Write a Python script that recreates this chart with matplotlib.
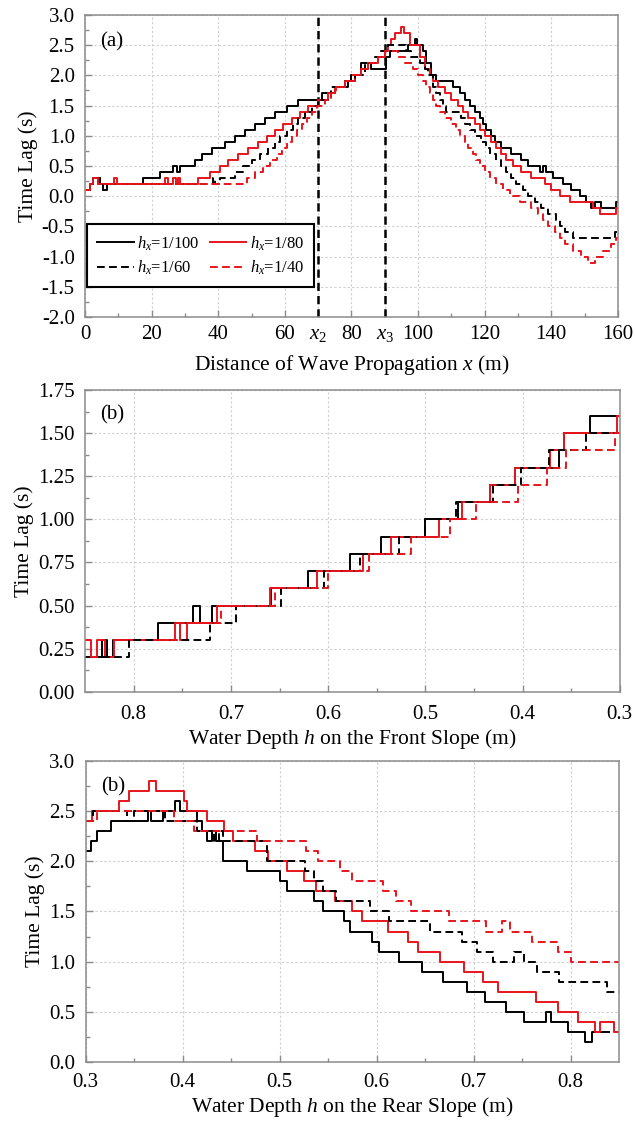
import numpy as np
import matplotlib
matplotlib.use('Agg')
import matplotlib.pyplot as plt
from matplotlib.ticker import MultipleLocator, FormatStrFormatter, FixedLocator

plt.rcParams['font.family'] = ['Liberation Serif', 'DejaVu Serif']
plt.rcParams['mathtext.fontset'] = 'custom'
plt.rcParams['mathtext.rm'] = 'Liberation Serif'
plt.rcParams['mathtext.it'] = 'Liberation Serif:italic'

#################################################
# (a) time lag along the propagation distance
x_a100 = [0, 1.5, 2.5, 4.5, 5.5, 6.5, 17.5, 22.5, 26.5, 27.5,
          28.5, 33, 35, 38, 42, 45, 48, 51, 54, 57,
          60.5, 64, 71, 75, 79, 81, 83, 86, 90.5, 91.5,
          97, 99, 99.8, 101.5, 102.5, 103.8, 105.5, 110.5, 112.5, 114,
          115.5, 117, 118.5, 119.5, 120.5, 122, 123, 125, 128, 131,
          133, 136.5, 137.5, 138.5, 140.5, 143.5, 146, 148.5, 150.5, 152,
          153, 155, 159.3, 160]
y_a100 = [0.1, 0.2, 0.3, 0.2, 0.1, 0.2, 0.3, 0.4, 0.5, 0.4,
          0.5, 0.6, 0.7, 0.8, 0.9, 1.0, 1.1, 1.2, 1.3, 1.4,
          1.5, 1.6, 1.7, 1.8, 1.9, 2.0, 2.2, 2.1, 2.3, 2.4,
          2.5, 2.6, 2.5, 2.4, 2.2, 2.0, 1.9, 1.8, 1.7, 1.6,
          1.5, 1.4, 1.3, 1.2, 1.1, 1.0, 0.9, 0.8, 0.7, 0.6,
          0.5, 0.4, 0.5, 0.4, 0.3, 0.2, 0.1, 0.0, -0.1, -0.2,
          -0.1, -0.2, -0.1, -0.1]

x_a80 = [0, 1.5, 2.5, 4, 8.8, 9.5, 24, 25, 26.5, 27.2,
         28, 28.6, 34, 37.5, 40.5, 43, 46, 49, 52, 54.5,
         57, 59.5, 62, 64.5, 67, 70, 73, 75, 78, 80,
         83, 85, 88, 90, 91, 92, 93, 95, 95.8, 97.5,
         100.5, 102, 103.5, 104.5, 106, 108, 110, 112, 113.5, 115,
         117, 118.5, 120, 122, 123.5, 125, 126.5, 128.5, 131, 134,
         138, 140, 142.5, 145.5, 152.5, 154.5, 159.5, 160]
y_a80 = [0.1, 0.2, 0.3, 0.2, 0.3, 0.2, 0.3, 0.2, 0.3, 0.2,
         0.3, 0.2, 0.3, 0.4, 0.5, 0.6, 0.7, 0.8, 0.9, 1.0,
         1.1, 1.2, 1.3, 1.4, 1.5, 1.6, 1.7, 1.8, 1.9, 2.0,
         2.1, 2.2, 2.3, 2.4, 2.5, 2.6, 2.7, 2.8, 2.7, 2.5,
         2.3, 2.1, 2.0, 1.9, 1.8, 1.7, 1.6, 1.5, 1.4, 1.3,
         1.2, 1.1, 1.0, 0.9, 0.8, 0.7, 0.6, 0.5, 0.4, 0.3,
         0.2, 0.1, 0.0, -0.1, -0.2, -0.3, -0.2, -0.2]

x_a60 = [0, 1.5, 2.5, 4.5, 5.5, 6.5, 38.5, 39, 40.5, 45,
         47.5, 50, 52.5, 55, 57, 58.5, 60.5, 62.5, 64, 66,
         68, 70, 74, 78, 80, 84, 87, 89, 91, 96.5,
         98, 100.5, 102, 103, 104.5, 105.5, 106.5, 107.5, 108.5, 113,
         114, 115.5, 117, 119, 120.5, 121.5, 123.5, 125, 126.5, 128,
         129.5, 131.5, 133, 135, 137, 139, 141.5, 142.5, 144, 146.5,
         159, 160]
y_a60 = [0.1, 0.2, 0.3, 0.2, 0.1, 0.2, 0.3, 0.2, 0.3, 0.4,
         0.5, 0.6, 0.7, 0.8, 0.9, 1.0, 1.1, 1.2, 1.3, 1.4,
         1.5, 1.6, 1.8, 1.9, 2.0, 2.2, 2.3, 2.4, 2.5, 2.4,
         2.3, 2.2, 2.1, 2.0, 1.8, 1.7, 1.6, 1.5, 1.4, 1.3,
         1.2, 1.1, 1.0, 0.9, 0.8, 0.7, 0.6, 0.5, 0.4, 0.3,
         0.2, 0.1, 0.0, -0.1, -0.2, -0.3, -0.4, -0.5, -0.6, -0.7,
         -0.6, -0.6]

x_a40 = [0, 1.5, 2.5, 4, 48.5, 51, 53.5, 55.5, 57.5, 59,
         60.5, 62, 63.5, 65, 66.5, 68, 69.5, 72, 74, 75.5,
         78, 81, 83, 85, 88, 90, 94, 96, 98.5, 100,
         101.5, 102.5, 103.5, 104.5, 105.5, 106.5, 108, 110, 111.5, 112.5,
         114, 115, 116.5, 117.5, 118.5, 120, 121.5, 123.5, 125.5, 127.5,
         130.5, 134, 136, 137.5, 139, 141, 142.5, 144, 146.5, 149,
         151, 153, 155.5, 158, 159.5, 160]
y_a40 = [0.1, 0.2, 0.3, 0.2, 0.3, 0.4, 0.5, 0.6, 0.7, 0.8,
         0.9, 1.0, 1.1, 1.2, 1.3, 1.4, 1.5, 1.6, 1.7, 1.8,
         1.9, 2.0, 2.1, 2.2, 2.3, 2.4, 2.3, 2.2, 2.1, 2.0,
         1.9, 1.8, 1.7, 1.6, 1.5, 1.4, 1.3, 1.2, 1.1, 1.0,
         0.9, 0.8, 0.7, 0.6, 0.5, 0.4, 0.3, 0.2, 0.1, 0.0,
         -0.1, -0.2, -0.3, -0.4, -0.5, -0.6, -0.7, -0.8, -0.9, -1.0,
         -1.1, -1.0, -0.9, -0.8, -0.7, -0.7]

x2_pos = 70
x3_pos = 90
xticks_a = [0, 20, 40, 60, 70, 80, 90, 100, 120, 140, 160]
xticklabels_a = ['0', '20', '40', '60', r'$x_2$', '80', r'$x_3$', '100', '120', '140', '160']

# (b) front slope
h_b100 = [0.85, 0.833, 0.827, 0.821, 0.775, 0.739, 0.732, 0.719, 0.659, 0.621,
          0.577, 0.546, 0.5, 0.466, 0.433, 0.408, 0.363, 0.357, 0.331, 0.3]
y_b100 = [0.2, 0.3, 0.2, 0.3, 0.4, 0.5, 0.4, 0.5, 0.6, 0.7,
          0.8, 0.9, 1.0, 1.1, 1.2, 1.3, 1.4, 1.5, 1.6, 1.6]
h_b80 = [0.85, 0.844, 0.838, 0.83, 0.82, 0.758, 0.752, 0.745, 0.714, 0.66,
         0.611, 0.564, 0.535, 0.486, 0.462, 0.433, 0.408, 0.372, 0.357, 0.303, 0.3]
y_b80 = [0.3, 0.2, 0.3, 0.2, 0.3, 0.4, 0.3, 0.4, 0.5, 0.6,
         0.7, 0.8, 0.9, 1.0, 1.1, 1.2, 1.3, 1.4, 1.5, 1.6, 1.6]
h_b60 = [0.833, 0.805, 0.722, 0.695, 0.648, 0.604, 0.567, 0.527, 0.5, 0.468,
         0.43, 0.402, 0.373, 0.335, 0.3]
y_b60 = [0.2, 0.3, 0.4, 0.5, 0.6, 0.7, 0.8, 0.9, 1.0, 1.1,
         1.2, 1.3, 1.4, 1.5, 1.5]
h_b40 = [0.775, 0.752, 0.71, 0.655, 0.6, 0.558, 0.515, 0.475, 0.448, 0.405,
         0.375, 0.355, 0.305, 0.3]
y_b40 = [0.3, 0.4, 0.5, 0.6, 0.7, 0.8, 0.9, 1.0, 1.1, 1.2,
         1.3, 1.4, 1.5, 1.5]

# (c) rear slope
h_c100 = [0.3, 0.305, 0.312, 0.326, 0.364, 0.367, 0.38, 0.392, 0.397, 0.415,
          0.42, 0.425, 0.43, 0.434, 0.442, 0.466, 0.5, 0.508, 0.535, 0.545,
          0.566, 0.572, 0.595, 0.602, 0.623, 0.647, 0.668, 0.693, 0.712, 0.733,
          0.752, 0.775, 0.78, 0.797, 0.815, 0.822, 0.84]
y_c100 = [2.1, 2.2, 2.3, 2.4, 2.5, 2.4, 2.5, 2.6, 2.5, 2.4,
          2.3, 2.2, 2.3, 2.2, 2.0, 1.9, 1.8, 1.7, 1.6, 1.5,
          1.4, 1.3, 1.2, 1.1, 1.0, 0.9, 0.8, 0.7, 0.6, 0.5,
          0.4, 0.5, 0.4, 0.3, 0.2, 0.3, 0.3]
h_c80 = [0.3, 0.306, 0.334, 0.345, 0.365, 0.372, 0.401, 0.404, 0.425, 0.443,
         0.452, 0.475, 0.488, 0.508, 0.525, 0.537, 0.557, 0.575, 0.585, 0.612,
         0.632, 0.643, 0.665, 0.69, 0.71, 0.725, 0.764, 0.787, 0.808, 0.825,
         0.83, 0.845, 0.85]
y_c80 = [2.4, 2.5, 2.6, 2.7, 2.8, 2.7, 2.6, 2.5, 2.4, 2.3,
         2.2, 2.1, 2.0, 1.9, 1.8, 1.7, 1.6, 1.5, 1.4, 1.3,
         1.2, 1.1, 1.0, 0.9, 0.8, 0.7, 0.6, 0.5, 0.4, 0.3,
         0.4, 0.3, 0.3]
h_c60 = [0.3, 0.307, 0.343, 0.35, 0.382, 0.415, 0.432, 0.437, 0.442, 0.487,
         0.526, 0.535, 0.545, 0.558, 0.593, 0.613, 0.655, 0.688, 0.703, 0.72,
         0.742, 0.752, 0.765, 0.788, 0.838, 0.85]
y_c60 = [2.4, 2.5, 2.4, 2.5, 2.4, 2.3, 2.2, 2.3, 2.2, 2.0,
         1.9, 1.8, 1.7, 1.6, 1.5, 1.4, 1.3, 1.2, 1.1, 1.0,
         1.1, 1.0, 0.9, 0.8, 0.7, 0.7]
h_c40 = [0.3, 0.312, 0.391, 0.412, 0.477, 0.527, 0.54, 0.562, 0.575, 0.607,
         0.62, 0.635, 0.675, 0.713, 0.729, 0.737, 0.76, 0.787, 0.8, 0.85]
y_c40 = [2.4, 2.5, 2.4, 2.3, 2.2, 2.1, 2.0, 1.9, 1.8, 1.7,
         1.6, 1.5, 1.4, 1.3, 1.4, 1.3, 1.2, 1.1, 1.0, 1.0]

Labels = [r'$h_x$=1/100', r'$h_x$=1/80', r'$h_x$=1/60', r'$h_x$=1/40']
#################################################

RED       = '#e8141c'
Colors    = ['black', RED, 'black', RED]
Dashed    = [False, False, True, True]
LineWidth = 1.4
TickSize  = 15
LabelSize = 15.5
SpineCol  = '#8c8c8c'


def draw_series(ax, xs, ys):
    lines = []
    for x, y, c, d, lab in zip(xs, ys, Colors, Dashed, Labels):
        l, = ax.plot(x, y, drawstyle='steps-post', color=c, lw=LineWidth, label=lab)
        if d:
            l.set_dashes((4, 2.2))
        lines.append(l)
    return lines


def style_axes(ax, xpad):
    for s in ax.spines.values():
        s.set_color(SpineCol)
        s.set_linewidth(1.1)
    ax.tick_params(which='both', direction='in', top=False, right=False,
                   color=SpineCol, labelsize=TickSize, labelcolor='black')
    ax.tick_params(which='major', length=5, width=1)
    ax.tick_params(which='minor', length=3, width=1)
    ax.tick_params(axis='y', which='both', pad=7.5)
    ax.tick_params(axis='x', which='both', pad=xpad)
    ax.grid(True, which='major', color='#cfcfcf', linestyle=(0, (2, 2)), lw=0.8)
    ax.set_axisbelow(True)


fig = plt.figure(figsize=(6.35, 11.24), dpi=100)
ax_a = fig.add_axes([0.134, 0.718, 0.839, 0.2687])
ax_b = fig.add_axes([0.134, 0.3845, 0.842, 0.2685])
ax_c = fig.add_axes([0.135, 0.0552, 0.840, 0.2678])

# (a)
ax_a.axvline(x2_pos, color='black', lw=1.8, dashes=(3.3, 2), zorder=1.5)
ax_a.axvline(x3_pos, color='black', lw=1.8, dashes=(3.3, 2), zorder=1.5)
la = draw_series(ax_a, [x_a100, x_a80, x_a60, x_a40], [y_a100, y_a80, y_a60, y_a40])
ax_a.set_xlim(0, 160)
ax_a.set_ylim(-2.0, 3.0)
ax_a.xaxis.set_major_locator(FixedLocator(xticks_a))
ax_a.set_xticklabels(xticklabels_a)
ax_a.xaxis.set_minor_locator(FixedLocator([10, 30, 50, 110, 130, 150]))
ax_a.yaxis.set_major_locator(MultipleLocator(0.5))
ax_a.yaxis.set_minor_locator(MultipleLocator(0.25))
ax_a.yaxis.set_major_formatter(FormatStrFormatter('%.1f'))
ax_a.set_xlabel(r'Distance of Wave Propagation $x$ (m)', fontsize=LabelSize, labelpad=7)
ax_a.set_ylabel('Time Lag (s)', fontsize=LabelSize, labelpad=3)
ax_a.text(0.028, 0.91, '(a)', transform=ax_a.transAxes, fontsize=TickSize, va='center', ha='left')
style_axes(ax_a, 5.5)
leg = ax_a.legend([la[0], la[2], la[1], la[3]], [Labels[0], Labels[2], Labels[1], Labels[3]],
                  ncol=2, loc='lower left', bbox_to_anchor=(0.004, 0.1), borderaxespad=0,
                  fontsize=12, fancybox=False, framealpha=1, edgecolor='black',
                  handlelength=2.2, handletextpad=0.2, columnspacing=0.6,
                  labelspacing=0.35, borderpad=0.6)
leg.get_frame().set_linewidth(1.5)

# (b)
draw_series(ax_b, [h_b100, h_b80, h_b60, h_b40], [y_b100, y_b80, y_b60, y_b40])
ax_b.set_xlim(0.85, 0.3)
ax_b.set_ylim(0.0, 1.75)
ax_b.xaxis.set_major_locator(FixedLocator([0.8, 0.7, 0.6, 0.5, 0.4, 0.3]))
ax_b.xaxis.set_minor_locator(FixedLocator([0.75, 0.65, 0.55, 0.45, 0.35]))
ax_b.xaxis.set_major_formatter(FormatStrFormatter('%.1f'))
ax_b.yaxis.set_major_locator(MultipleLocator(0.25))
ax_b.yaxis.set_minor_locator(MultipleLocator(0.125))
ax_b.yaxis.set_major_formatter(FormatStrFormatter('%.2f'))
ax_b.set_xlabel(r'Water Depth $h$ on the Front Slope (m)', fontsize=LabelSize, labelpad=2)
ax_b.set_ylabel('Time Lag (s)', fontsize=LabelSize, labelpad=3)
ax_b.text(0.028, 0.917, '(b)', transform=ax_b.transAxes, fontsize=TickSize, va='center', ha='left')
style_axes(ax_b, 9.5)

# (c)
draw_series(ax_c, [h_c100, h_c80, h_c60, h_c40], [y_c100, y_c80, y_c60, y_c40])
ax_c.set_xlim(0.3, 0.85)
ax_c.set_ylim(0.0, 3.0)
ax_c.xaxis.set_major_locator(FixedLocator([0.3, 0.4, 0.5, 0.6, 0.7, 0.8]))
ax_c.xaxis.set_minor_locator(FixedLocator([0.35, 0.45, 0.55, 0.65, 0.75]))
ax_c.xaxis.set_major_formatter(FormatStrFormatter('%.1f'))
ax_c.yaxis.set_major_locator(MultipleLocator(0.5))
ax_c.yaxis.set_minor_locator(MultipleLocator(0.25))
ax_c.yaxis.set_major_formatter(FormatStrFormatter('%.1f'))
ax_c.set_xlabel(r'Water Depth $h$ on the Rear Slope (m)', fontsize=LabelSize, labelpad=2)
ax_c.set_ylabel('Time Lag (s)', fontsize=LabelSize, labelpad=3)
ax_c.text(0.028, 0.914, '(b)', transform=ax_c.transAxes, fontsize=TickSize, va='center', ha='left')
style_axes(ax_c, 8)

fig.savefig('out.png', dpi=100)
